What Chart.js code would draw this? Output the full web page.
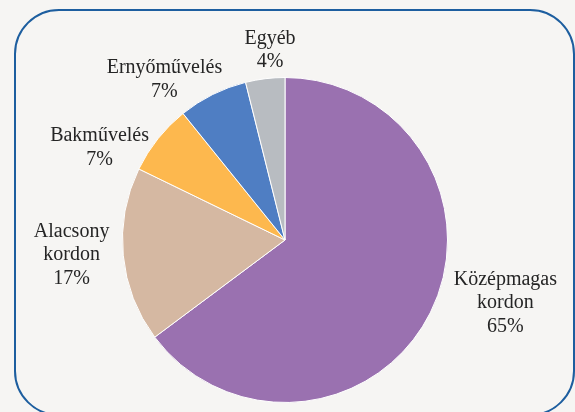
<!DOCTYPE html>
<html>
<head>
<meta charset="utf-8">
<script src="https://cdn.jsdelivr.net/npm/chart.js@4"></script>
</head>
<body style="margin:0;background:#f6f5f3">
<canvas id="chart" width="575" height="412"></canvas>
<script>
// data
const labels = [['Középmagas', 'kordon'], ['Alacsony', 'kordon'], ['Bakművelés'], ['Ernyőművelés'], ['Egyéb']];
const values = [64.8, 17.4, 7.0, 6.9, 3.9];
const shownPct = ['65%', '17%', '7%', '7%', '4%'];
const colors = ['#9a71b0', '#d5b8a2', '#fdb84e', '#4f7ec3', '#b8bcc1'];

// first-line baseline of each label, relative to the pie centre in units of the radius
const labelPos = [[1.356, 0.276], [-1.313, -0.018], [-1.141, -0.607], [-0.742, -1.025], [-0.092, -1.209]];

Chart.defaults.font.family = '"Liberation Serif", serif';

const frame = {
  id: 'frame',
  beforeDraw(chart) {
    const c = chart.ctx;
    c.fillStyle = '#f6f5f3';
    c.fillRect(0, 0, chart.width, chart.height);
    c.strokeStyle = '#1d5e9f';
    c.lineWidth = 2;
    c.beginPath();
    c.roundRect(15, 10, 559, 405, 44);
    c.stroke();
  }
};

const outsideLabels = {
  id: 'outsideLabels',
  afterDatasetsDraw(chart) {
    const c = chart.ctx;
    const arc = chart.getDatasetMeta(0).data[0];
    const r = arc.outerRadius;
    labels.forEach((lab, i) => {
      const x = arc.x + labelPos[i][0] * r;
      let y = arc.y + labelPos[i][1] * r;
      lab.concat([shownPct[i]]).forEach(line => {
        c.font = '20px "Liberation Serif"';
        c.fillStyle = '#252525';
        c.textAlign = 'center';
        c.fillText(line, x, y);
        y += 23.4;
      });
    });
  }
};

new Chart(document.getElementById('chart'), {
  type: 'pie',
  data: {
    labels: labels.map(l => l.join(' ')),
    datasets: [{
      data: values,
      backgroundColor: colors,
      borderColor: '#ffffff',
      borderWidth: 1
    }]
  },
  options: {
    responsive: false,
    animation: false,
    layout: { padding: { left: 122, right: 127, top: 77, bottom: 9 } },
    plugins: {
      legend: { display: false },
      tooltip: { enabled: false }
    }
  },
  plugins: [frame, outsideLabels]
});
</script>
</body>
</html>
